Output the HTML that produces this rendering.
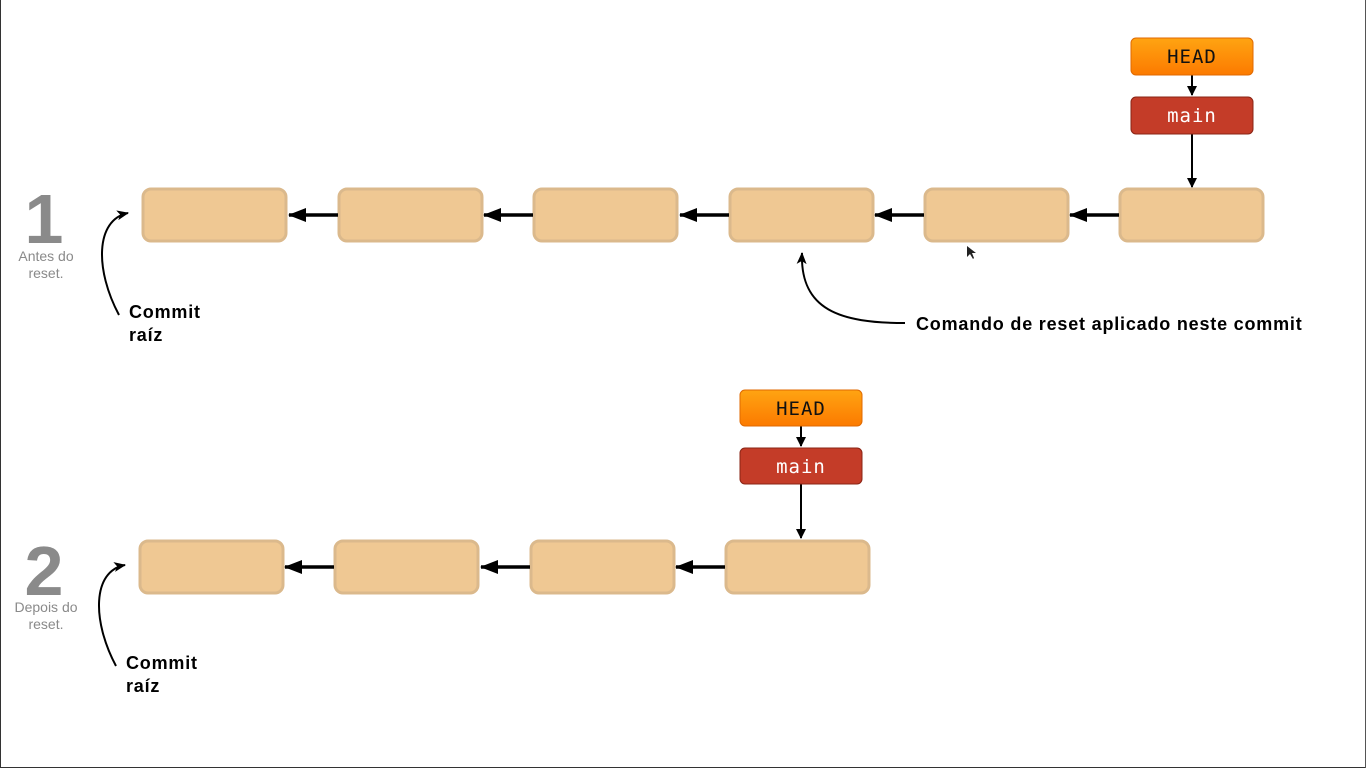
<!DOCTYPE html>
<html><head><meta charset="utf-8"><style>
html,body{margin:0;padding:0;background:#fff;}
svg{display:block;}
</style></head><body>
<svg width="1366" height="768" viewBox="0 0 1366 768" xmlns="http://www.w3.org/2000/svg">
<defs>
<linearGradient id="hg" x1="0" y1="0" x2="0" y2="1"><stop offset="0" stop-color="#ffa412"/><stop offset="1" stop-color="#fc7a00"/></linearGradient>
<marker id="ah" markerWidth="10" markerHeight="10" refX="9" refY="5" orient="auto" markerUnits="userSpaceOnUse"><path d="M0,0 L10,5 L0,10 z" fill="#000"/></marker>
<marker id="bh" markerWidth="18" markerHeight="14" refX="17" refY="7" orient="auto" markerUnits="userSpaceOnUse"><path d="M0,0 L18,7 L0,14 z" fill="#000"/></marker>
<marker id="sh" markerWidth="12" markerHeight="10" refX="11" refY="5" orient="auto" markerUnits="userSpaceOnUse"><path d="M0,0 L12,5 L0,10 L3,5 z" fill="#000"/></marker>
</defs>
<line x1="0.5" y1="0" x2="0.5" y2="768" stroke="#333" stroke-width="1"/>
<line x1="0" y1="767.5" x2="1366" y2="767.5" stroke="#333" stroke-width="1"/>
<line x1="1365.5" y1="0" x2="1365.5" y2="768" stroke="#555" stroke-width="1"/>
<g fill="#efc893" stroke="#dbb98c" stroke-width="3">
<rect x="143" y="189" width="143" height="52" rx="8"/>
<rect x="339" y="189" width="143" height="52" rx="8"/>
<rect x="534" y="189" width="143" height="52" rx="8"/>
<rect x="730" y="189" width="143" height="52" rx="8"/>
<rect x="925" y="189" width="143" height="52" rx="8"/>
<rect x="1120" y="189" width="143" height="52" rx="8"/>
<rect x="140" y="541" width="143" height="52" rx="8"/>
<rect x="335" y="541" width="143" height="52" rx="8"/>
<rect x="531" y="541" width="143" height="52" rx="8"/>
<rect x="726" y="541" width="143" height="52" rx="8"/>
</g>
<g stroke="#000" stroke-width="3.5">
<line x1="338" y1="215" x2="289" y2="215" marker-end="url(#bh)"/>
<line x1="533" y1="215" x2="484" y2="215" marker-end="url(#bh)"/>
<line x1="729" y1="215" x2="680" y2="215" marker-end="url(#bh)"/>
<line x1="924" y1="215" x2="875" y2="215" marker-end="url(#bh)"/>
<line x1="1119" y1="215" x2="1070" y2="215" marker-end="url(#bh)"/>
<line x1="334" y1="567" x2="285" y2="567" marker-end="url(#bh)"/>
<line x1="530" y1="567" x2="481" y2="567" marker-end="url(#bh)"/>
<line x1="725" y1="567" x2="676" y2="567" marker-end="url(#bh)"/>
</g>
<g stroke="#000" stroke-width="2">
<line x1="1192" y1="75" x2="1192" y2="95" marker-end="url(#ah)"/>
<line x1="1192" y1="134" x2="1192" y2="187" marker-end="url(#ah)"/>
<line x1="801" y1="426" x2="801" y2="446" marker-end="url(#ah)"/>
<line x1="801" y1="484" x2="801" y2="538" marker-end="url(#ah)"/>
</g>
<rect x="1131" y="38" width="122" height="37" rx="5" fill="url(#hg)" stroke="#e06a00"/>
<rect x="1131" y="97" width="122" height="37" rx="5" fill="#c43c28" stroke="#8a2415"/>
<rect x="740" y="390" width="122" height="36" rx="5" fill="url(#hg)" stroke="#e06a00"/>
<rect x="740" y="448" width="122" height="36" rx="5" fill="#c43c28" stroke="#8a2415"/>
<g font-family="DejaVu Sans Mono, monospace" font-size="19" text-anchor="middle" letter-spacing="1">
<text x="1192" y="63" fill="#111">HEAD</text>
<text x="1192" y="122" fill="#fff">main</text>
<text x="801" y="415" fill="#111">HEAD</text>
<text x="801" y="473" fill="#fff">main</text>
</g>
<g fill="none" stroke="#000" stroke-width="2">
<path d="M119,315 C95,270 95,220 128,213" marker-end="url(#sh)"/>
<path d="M116,666 C92,621 92,571 125,565" marker-end="url(#sh)"/>
<path d="M905,323 C840,323 800,310 802,253" marker-end="url(#sh)"/>
</g>
<g font-family="Liberation Sans, sans-serif">
<text x="44" y="243" font-size="70" font-weight="bold" fill="#8a8a8a" text-anchor="middle">1</text>
<text x="46" y="261" font-size="14" fill="#8a8a8a" text-anchor="middle">Antes do</text>
<text x="46" y="278" font-size="14" fill="#8a8a8a" text-anchor="middle">reset.</text>
<text x="44" y="595" font-size="70" font-weight="bold" fill="#8a8a8a" text-anchor="middle">2</text>
<text x="46" y="612" font-size="14" fill="#8a8a8a" text-anchor="middle">Depois do</text>
<text x="46" y="629" font-size="14" fill="#8a8a8a" text-anchor="middle">reset.</text>
<g font-size="18" font-weight="bold" letter-spacing="0.8" fill="#000">
<text x="129" y="318">Commit</text>
<text x="129" y="341">raíz</text>
<text x="126" y="669">Commit</text>
<text x="126" y="692">raíz</text>
<text x="916" y="330">Comando de reset aplicado neste commit</text>
</g>
</g>
<path d="M967,246 L967,257 L970,254 L973,259 L974,258 L972,253 L976,253 z" fill="#222"/>
</svg>
</body></html>
